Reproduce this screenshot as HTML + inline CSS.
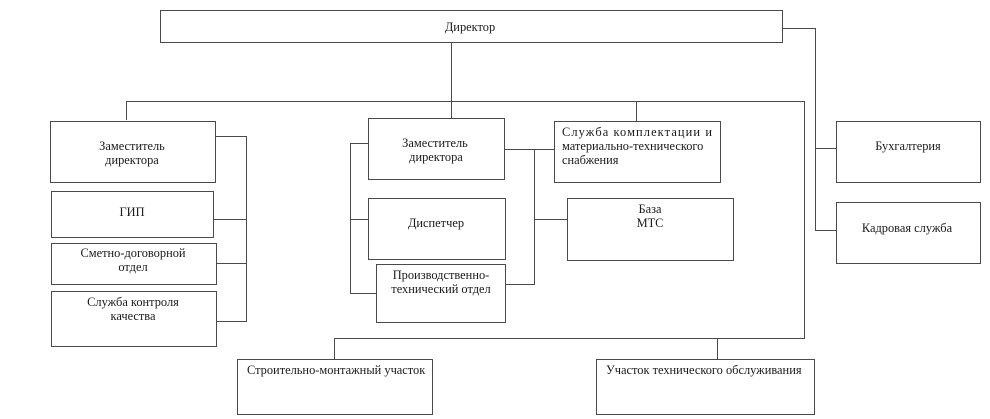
<!DOCTYPE html>
<html><head><meta charset="utf-8"><style>
body{margin:0;background:#fff}
svg{display:block}
text{font-family:"Liberation Serif",serif;font-size:12.4px;fill:#1a1a1a}
</style></head><body>
<svg width="990" height="419" viewBox="0 0 990 419">
<g fill="#fff" stroke="#4a4a4a" stroke-width="1">
<rect x="160.5" y="10.5" width="622" height="32"/>
<rect x="50.5" y="121.5" width="165" height="61"/>
<rect x="51.5" y="191.5" width="162" height="46"/>
<rect x="51.5" y="243.5" width="165" height="41"/>
<rect x="51.5" y="291.5" width="165" height="55"/>
<rect x="368.5" y="118.5" width="136" height="61"/>
<rect x="368.5" y="198.5" width="137" height="61"/>
<rect x="376.5" y="264.5" width="129" height="58"/>
<rect x="554.5" y="121.5" width="166" height="61"/>
<rect x="567.5" y="198.5" width="166" height="62"/>
<rect x="836.5" y="121.5" width="144" height="61"/>
<rect x="836.5" y="202.5" width="144" height="61"/>
<rect x="237.5" y="359.5" width="195" height="55"/>
<rect x="596.5" y="359.5" width="218" height="55"/>
</g>
<g fill="none" stroke="#4a4a4a" stroke-width="1">
<path d="M451.5 42V118M126.5 120V101.5H804.5V338.5H334.5V359M717.5 338V359M636.5 101V121"/>
<path d="M782 28.5H815.5V230.5H836M815 148.5H836"/>
<path d="M215 136.5H246.5V321.5H216M213 219.5H246M216 263.5H246"/>
<path d="M368 143.5H350.5V293.5H376M350 219.5H368"/>
<path d="M504 149.5H554M534.5 149V284.5H505M534 219.5H567"/>
</g>
<g text-anchor="middle">
<text x="470" y="31">Директор</text>
<text x="132" y="150">Заместитель</text>
<text x="132" y="164">директора</text>
<text x="132" y="216">ГИП</text>
<text x="133" y="257">Сметно-договорной</text>
<text x="133" y="271">отдел</text>
<text x="133" y="306">Служба контроля</text>
<text x="133" y="320">качества</text>
<text x="435" y="147">Заместитель</text>
<text x="436" y="161">директора</text>
<text x="436" y="227">Диспетчер</text>
<text x="441" y="279">Производственно-</text>
<text x="441" y="293">технический отдел</text>
<text x="650" y="213">База</text>
<text x="650" y="227">МТС</text>
<text x="908" y="150">Бухгалтерия</text>
<text x="907" y="232">Кадровая служба</text>
</g>
<text x="562" y="136" textLength="150" lengthAdjust="spacing">Служба комплектации и</text>
<text x="562" y="150">материально-технического</text>
<text x="562" y="164">снабжения</text>
<text x="247" y="374">Строительно-монтажный участок</text>
<text x="606" y="374">Участок технического обслуживания</text>
</svg>
</body></html>
